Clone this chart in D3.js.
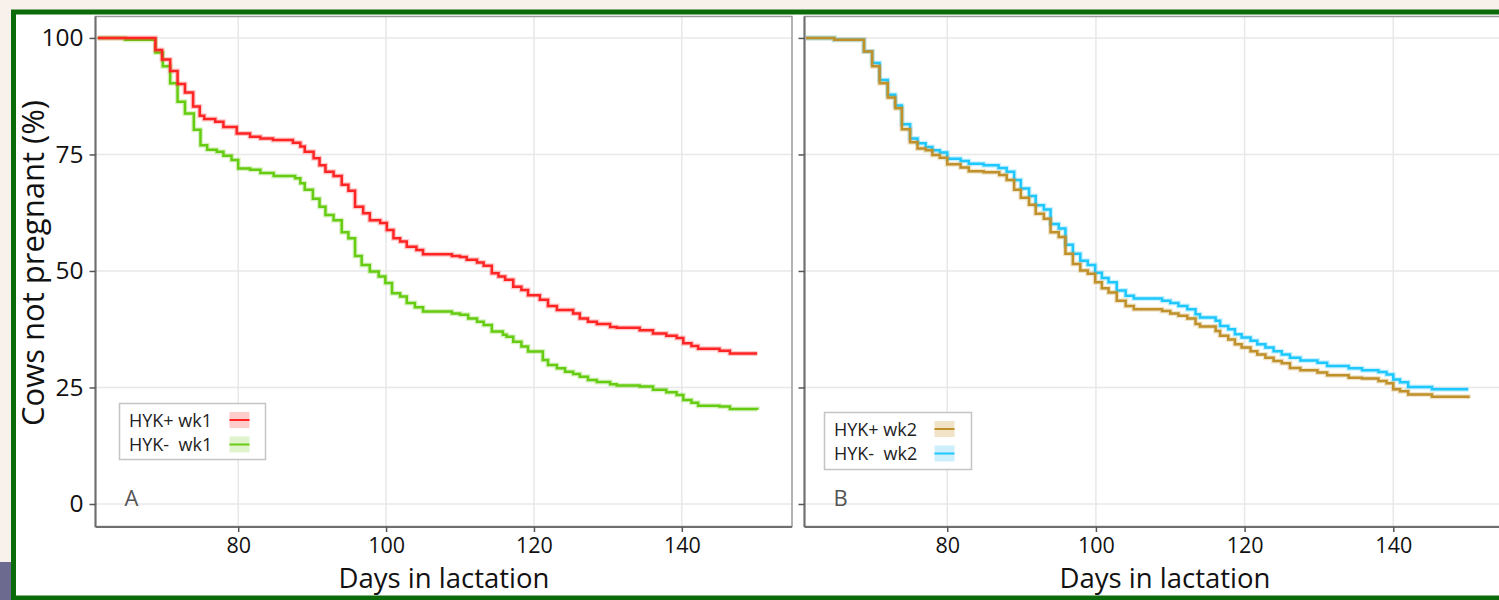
<!DOCTYPE html>
<html><head><meta charset="utf-8">
<script src="https://cdn.jsdelivr.net/npm/d3@7"></script>
<style>body{margin:0;background:#f8f0ea;overflow:hidden} svg{display:block}</style>
</head><body><svg id="c" width="1499" height="600"></svg>
<script>
// ---------- data ----------
const xTicks = [80, 100, 120, 140];
const yTicks = [0, 25, 50, 75, 100];
const seriesNamesA = ["HYK+ wk1", "HYK-  wk1"];
const seriesNamesB = ["HYK+ wk2", "HYK-  wk2"];
const panelLabels = ["A", "B"];

const daysRedA = [61,68.8,69.7,70.8,71.8,72.8,73.9,74.8,75.4,76.9,78,79.8,81.6,83,84.7,87.4,88.4,89,90.2,91,91.8,92.9,94,94.9,95.8,96.9,97.8,99.2,100.1,101,101.9,102.8,104.1,105,108.9,110,110.9,112.3,113.2,114.3,115.2,116.1,117.2,118.3,119.2,120.8,121.9,123.1,125.3,126.2,127.3,128.5,130.3,131.2,134.3,136.1,137.9,139.3,140.2,141.3,142.2,145.1,146.5,150.2];
const pctRedA  = [100,97.4,95.4,92.9,90.1,88.3,85.3,83.3,82.6,82.0,80.9,79.5,78.8,78.4,78.1,77.5,76.7,75.6,74.2,72.7,71.3,70.4,68.5,67.2,63.8,62.4,60.9,60.3,58.8,57.0,56.3,55.2,54.5,53.6,53.2,53.0,52.4,51.8,51.1,49.5,48.8,48.1,46.6,45.9,44.8,43.8,42.5,41.6,40.9,39.8,39.1,38.6,38.0,37.8,37.3,36.6,36.1,35.6,34.5,33.9,33.3,32.9,32.3,32.3];

const daysGreenA = [61,64.7,68.8,69.8,70.8,71.8,72.8,74,74.9,75.8,77.1,78,79.1,80,81.6,83,84.8,87.7,88.4,89,90.1,91,91.8,92.9,94,94.9,95.8,96.7,97.8,99,99.9,100.8,101.9,102.8,103.9,105,108.9,110,111.1,112.3,113.2,114.3,115.8,116.3,117.2,118.3,119.2,121.2,121.9,123.1,124.2,125.3,126.2,127.3,128.5,130.3,131.2,134.3,136.1,137.9,139.3,140.2,141.3,142.2,145.1,146.5,150.2];
const pctGreenA  = [100,99.6,96.9,93.9,90.3,86.3,83.8,80.3,77.0,76.0,75.6,74.7,73.8,72.0,71.7,71.0,70.4,69.9,68.8,67.4,65.5,63.8,62.0,60.9,58.3,57.0,53.2,51.3,49.9,48.8,47.4,45.2,44.5,43.1,42.2,41.3,40.9,40.6,39.8,39.1,38.4,37.0,36.3,35.9,34.8,33.8,32.7,30.9,29.8,29.1,28.4,27.9,27.3,26.6,26.2,25.7,25.4,25.2,24.5,24.0,23.4,22.3,21.7,21.1,20.9,20.4,20.2];

const daysBrownB = [61,64.8,68.8,69.9,70.9,72,73,73.9,75,76,77.1,78,79,80,81.8,82.9,84.9,87,88,89,89.9,91,91.9,93,93.9,95,95.9,96.9,97.9,98.9,99.9,100.8,101.7,102.8,104,105.1,108.9,110,111.1,112.3,113.4,114,116.1,116.7,117.8,118.7,119.6,120.8,121.7,122.8,123.9,125,126.1,127.5,129.8,131.1,134,135.8,138,139.1,140,140.9,142,145.2,150.1];
const pctBrownB  = [100,99.6,97.1,93.9,90.3,87.2,84.9,80.4,77.6,76.3,75.9,74.9,74.3,72.9,72.2,71.4,71.2,70.6,69.5,67.4,65.7,64.2,62.3,61.2,58.3,57.3,53.7,51.5,50.1,49.4,47.6,46.3,45.4,43.6,42.5,41.8,41.4,40.9,40.4,39.8,38.6,38.1,37.1,36.1,35.3,34.3,33.6,32.8,32.1,31.4,30.7,30.2,29.2,28.7,28.2,27.6,27.1,26.9,26.4,25.9,24.6,24.2,23.5,23.0,22.7];

const daysBlueB = [61,64.8,68.8,69.9,70.9,72,73,73.9,75,76,77.1,78,79,80,81.8,82.9,84.9,86.9,88,89,89.9,91,91.9,93,93.9,95,95.9,96.9,97.9,98.9,99.9,100.8,101.7,102.8,104,105.1,108.9,110,111.1,112.3,113.4,114,116.1,116.7,117.8,118.7,119.6,120.8,121.7,122.8,123.9,125,126.1,127.5,129.8,131.1,134,135.8,138,139.1,140,140.9,142,145.2,150.1];
const pctBlueB  = [100,99.6,97.1,94.6,91.0,87.8,85.5,81.5,78.4,77.4,76.6,75.9,75.4,74.1,73.6,73.0,72.7,72.1,71.3,69.5,67.7,66.1,64.1,63.2,60.1,59.1,55.6,53.7,52.2,51.3,49.6,48.5,47.6,45.8,44.7,44.1,43.6,43.1,42.5,41.8,40.7,40.0,39.3,38.2,37.5,36.4,35.7,35.0,34.3,33.6,32.8,32.1,31.4,30.8,30.3,29.6,29.1,28.7,28.3,27.8,26.7,26.1,25.1,24.6,24.6];

// ---------- drawing ----------
const svg = d3.select("#c");
const font = "'Open Sans', sans-serif";

// slide frame
svg.append("rect").attr("x",0).attr("y",0).attr("width",1499).attr("height",600).attr("fill","#f8f0ea");
svg.append("rect").attr("x",0).attr("y",562).attr("width",14).attr("height",38).attr("fill","#6d6a8f");
svg.append("rect").attr("x",13.5).attr("y",12).attr("width",1495).attr("height",586)
  .attr("fill","#ffffff").attr("stroke","#0b6b0b").attr("stroke-width",5);

const yScale = d3.scaleLinear().domain([-4.83, 104.6]).range([526.5, 16.5]);

const panels = [
  {x0: 95.5, x1: 792, dom: [60.7, 154.9], label: panelLabels[0], yLabels: true, titleX: 444,
   series: [
     {days: daysGreenA, pct: pctGreenA, color: "#66cc11", name: seriesNamesA[1], fillc: "#dff3cc"},
     {days: daysRedA, pct: pctRedA, color: "#ff2525", name: seriesNamesA[0], fillc: "#ffcccc"}
   ],
   legend: {x: 119.5, y: 403.5, w: 146, h: 56}},
  {x0: 804.5, x1: 1504.8, dom: [60.8, 155], label: panelLabels[1], yLabels: false, titleX: 1165,
   series: [
     {days: daysBlueB, pct: pctBlueB, color: "#1ec8ff", name: seriesNamesB[1], fillc: "#cdeffc"},
     {days: daysBrownB, pct: pctBrownB, color: "#c0902a", name: seriesNamesB[0], fillc: "#f0e3c8"}
   ],
   legend: {x: 824.5, y: 412.5, w: 147, h: 57}}
];

panels.forEach((p, pi) => {
  const x = d3.scaleLinear().domain(p.dom).range([p.x0, p.x1]);
  const g = svg.append("g");
  const clipId = "clip" + pi;
  svg.append("defs").append("clipPath").attr("id", clipId)
    .append("rect").attr("x", p.x0).attr("y", 16.5).attr("width", p.x1 - p.x0).attr("height", 510);

  // grid
  g.selectAll(".gx").data(xTicks).join("line")
    .attr("x1", d => x(d)).attr("x2", d => x(d)).attr("y1", 16.5).attr("y2", 526.5)
    .attr("stroke", "#e8e8e8").attr("stroke-width", 1.5);
  g.selectAll(".gy").data(yTicks).join("line")
    .attr("x1", p.x0).attr("x2", p.x1).attr("y1", d => yScale(d)).attr("y2", d => yScale(d))
    .attr("stroke", "#e8e8e8").attr("stroke-width", 1.5);

  // curves
  const line = d3.line().curve(d3.curveStepAfter).x(d => x(d[0])).y(d => yScale(d[1]));
  p.series.forEach(s => {
    const pts = s.days.map((d, i) => [d, s.pct[i]]);
    g.append("path").attr("d", line(pts)).attr("fill", "none")
      .attr("stroke", s.color).attr("stroke-opacity", 0.25).attr("stroke-width", 5)
      .attr("clip-path", `url(#${clipId})`);
    g.append("path").attr("d", line(pts)).attr("fill", "none")
      .attr("stroke", s.color).attr("stroke-width", 2.5)
      .attr("clip-path", `url(#${clipId})`);
  });

  // border
  g.append("rect").attr("x", p.x0).attr("y", 16.5).attr("width", p.x1 - p.x0).attr("height", 510)
    .attr("fill", "none").attr("stroke", "#9a9a9a").attr("stroke-width", 1.5);
  // axis lines
  g.append("line").attr("x1", p.x0).attr("x2", p.x0).attr("y1", 16.5).attr("y2", 527)
    .attr("stroke", "#6f6f6f").attr("stroke-width", 2);
  g.append("line").attr("x1", p.x0).attr("x2", p.x1).attr("y1", 527).attr("y2", 527)
    .attr("stroke", "#6f6f6f").attr("stroke-width", 2);

  // x axis
  const xAxis = d3.axisBottom(x).tickValues(xTicks).tickSize(5).tickPadding(6).tickSizeOuter(0);
  const gx = svg.append("g").attr("transform", "translate(0,527)").call(xAxis);
  gx.select(".domain").remove();
  gx.selectAll(".tick line").attr("stroke", "#555").attr("stroke-width", 1.5);
  gx.selectAll(".tick text").attr("font-family", font).attr("font-size", 21.5).attr("fill", "#111");

  // y axis
  const yAxis = d3.axisLeft(yScale).tickValues(yTicks).tickSize(6).tickPadding(6).tickSizeOuter(0)
    .tickFormat(p.yLabels ? d3.format("d") : () => "");
  const gy = svg.append("g").attr("transform", `translate(${p.x0},0)`).call(yAxis);
  gy.select(".domain").remove();
  gy.selectAll(".tick line").attr("stroke", "#555").attr("stroke-width", 1.5);
  gy.selectAll(".tick text").attr("font-family", font).attr("font-size", 24.5).attr("fill", "#111");

  // x title
  svg.append("text").attr("x", p.titleX).attr("y", 588)
    .attr("text-anchor", "middle").attr("font-family", font).attr("font-size", 27.5)
    .attr("fill", "#111").text("Days in lactation");

  // panel label
  svg.append("text").attr("x", p.x0 + 29).attr("y", 506).attr("font-family", font)
    .attr("font-size", 22).attr("fill", "#555").text(p.label);

  // legend
  const L = p.legend;
  const lg = svg.append("g");
  lg.append("rect").attr("x", L.x).attr("y", L.y).attr("width", L.w).attr("height", L.h)
    .attr("fill", "#fff").attr("stroke", "#c4c4c4").attr("stroke-width", 1.5);
  const order = [p.series[1], p.series[0]];
  order.forEach((s, i) => {
    const cy = L.y + 16.5 + i * 24.5;
    lg.append("text").attr("x", L.x + 9.5).attr("y", cy + 6.5).attr("font-family", font)
      .attr("font-size", 18).attr("fill", "#222").attr("xml:space", "preserve")
      .style("white-space", "pre").text(s.name);
    lg.append("rect").attr("x", L.x + 110).attr("y", cy - 8).attr("width", 20).attr("height", 16)
      .attr("fill", s.fillc);
    lg.append("line").attr("x1", L.x + 110).attr("x2", L.x + 130).attr("y1", cy).attr("y2", cy)
      .attr("stroke", s.color).attr("stroke-width", 2);
  });
});

// y title
svg.append("text").attr("transform", "translate(44,263) rotate(-90)")
  .attr("text-anchor", "middle").attr("font-family", font).attr("font-size", 31)
  .attr("fill", "#111").text("Cows not pregnant (%)");
</script>
</body></html>
